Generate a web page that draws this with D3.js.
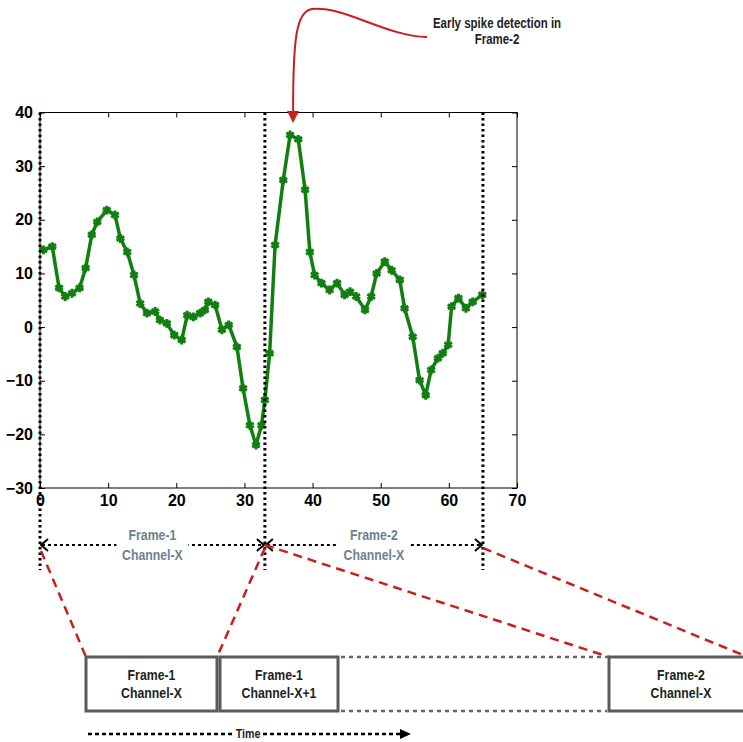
<!DOCTYPE html>
<html>
<head>
<meta charset="utf-8">
<script src="https://cdn.jsdelivr.net/npm/d3@7"></script>
<style>
  body { margin: 0; background: #fff; }
  svg { display: block; }
  .narrow { font-family: "Liberation Sans", Arial, sans-serif; font-weight: bold; }
</style>
</head>
<body>
<div id="chart"></div>
<script>
// サンプル番号（横軸）
const sampleX = [0.5, 1.8, 2.8, 3.7, 4.7, 5.8, 6.7, 7.6, 8.4, 9.8, 11, 11.8, 12.8, 13.8, 14.7, 15.7, 16.9, 17.6,
  18.6, 19.7, 20.8, 21.6, 22.5, 23.5, 24.2, 24.7, 25.7, 26.7, 27.7, 28.9, 29.8, 30.8, 31.7, 32.5, 33, 33.7,
  34.5, 35.7, 36.7, 37.9, 38.9, 39.6, 40.3, 41.3, 42.5, 43.6, 44.7, 45.5, 46.4, 47.7, 48.6, 49.4, 50.6, 51.6,
  52.8, 53.5, 54.7, 55.7, 56.6, 57.4, 58.4, 59.1, 59.9, 60.4, 61.4, 62.5, 63.5, 64.9]
// 振幅（縦軸）
const sampleY = [14.4, 15, 7.3, 5.7, 6.3, 7.3, 11, 17.2, 19.6, 21.8, 20.9, 16.5, 14, 9.7, 4.4, 2.6, 2.9, 1.3,
  0.7, -1.5, -2.4, 2.2, 1.9, 2.6, 3.2, 4.7, 4.1, -0.5, 0.4, -3.7, -11.4, -18.3, -22, -18.3, -13.6, -4.9,
  15.3, 27.4, 35.8, 35, 25.6, 14, 9.7, 8.2, 6.9, 8.2, 6, 6.6, 5.7, 3.2, 5.7, 10, 12.2, 10.6,
  8.8, 3.5, -1.8, -9.9, -12.7, -8, -5.8, -4.9, -3.3, 3.8, 5.4, 3.5, 4.7, 6]

const xTicks = [0, 10, 20, 30, 40, 50, 60, 70]
const yTicks = [-30, -20, -10, 0, 10, 20, 30, 40]

// フレームの境界（サンプル番号）
const frameEdges = [0, 33, 65]
const spanLabels = [['Frame-1', 'Channel-X'], ['Frame-2', 'Channel-X']]
const slotLabels = [['Frame-1', 'Channel-X'], ['Frame-1', 'Channel-X+1'], ['Frame-2', 'Channel-X']]
const noteLines = ['Early spike detection in', 'Frame-2']
const timeLabel = 'Time'

const width = 743
const height = 742

const svg = d3.select('#chart').append('svg')
  .attr('width', width)
  .attr('height', height)

const xScale = d3.scaleLinear().domain([0, 70]).range([40, 517])
const yScale = d3.scaleLinear().domain([-30, 40]).range([488, 112.5])

const green = '#107f10'
const red = '#c81e1e'

// 細めの文字（Arial Narrow 風に横を縮める）
const narrowText = (parent, lines, cx, y0, dy, size, color) => {
  parent.append('text')
    .attr('class', 'narrow')
    .attr('transform', `translate(${cx}, 0) scale(0.82, 1)`)
    .attr('text-anchor', 'middle')
    .attr('font-size', size)
    .attr('fill', color)
    .selectAll('tspan')
    .data(lines)
    .enter()
    .append('tspan')
    .attr('x', 0)
    .attr('y', (d, i) => y0 + i * dy)
    .text((d) => d)
}

// 外枠
svg.append('rect')
  .attr('x', xScale(0))
  .attr('y', yScale(40))
  .attr('width', xScale(70) - xScale(0))
  .attr('height', yScale(-30) - yScale(40))
  .attr('fill', 'none')
  .attr('stroke', '#000')
  .attr('stroke-width', 1)

// 軸（MATLAB風に目盛りは内向き）
const axisFont = (g) => {
  g.select('.domain').remove()
  g.selectAll('text')
    .attr('font-family', '"Liberation Sans", Arial, sans-serif')
    .attr('font-size', 16)
    .attr('font-weight', 'bold')
    .attr('fill', '#000')
}

svg.append('g')
  .attr('transform', `translate(0, ${yScale(-30)})`)
  .call(d3.axisBottom(xScale).tickValues(xTicks).tickSizeInner(-5).tickSizeOuter(0).tickPadding(7))
  .call(axisFont)

svg.append('g')
  .attr('transform', `translate(${xScale(0)}, 0)`)
  .call(d3.axisLeft(yScale).tickValues(yTicks).tickSizeInner(-5).tickSizeOuter(0).tickPadding(7))
  .call(axisFont)

svg.append('g')
  .attr('transform', `translate(0, ${yScale(40)})`)
  .call(d3.axisTop(xScale).tickValues(xTicks).tickSizeInner(-5).tickSizeOuter(0).tickFormat(''))
  .call(axisFont)

svg.append('g')
  .attr('transform', `translate(${xScale(70)}, 0)`)
  .call(d3.axisRight(yScale).tickValues(yTicks).tickSizeInner(-5).tickSizeOuter(0).tickFormat(''))
  .call(axisFont)

// 波形
const points = sampleX.map((d, i) => [d, sampleY[i]])

svg.append('path')
  .datum(points)
  .attr('fill', 'none')
  .attr('stroke', green)
  .attr('stroke-width', 3.5)
  .attr('stroke-linejoin', 'round')
  .attr('d', d3.line().x((d) => xScale(d[0])).y((d) => yScale(d[1])))

svg.append('g')
  .selectAll('path')
  .data(points)
  .enter()
  .append('path')
  .attr('transform', (d) => `translate(${xScale(d[0])}, ${yScale(d[1])})`)
  .attr('d', d3.symbol().type(d3.symbolAsterisk).size(55))
  .attr('fill', 'none')
  .attr('stroke', green)
  .attr('stroke-width', 3)

// フレーム境界の縦点線
const spanY = 545
svg.append('g')
  .selectAll('line')
  .data(frameEdges)
  .enter()
  .append('line')
  .attr('x1', (d) => xScale(d))
  .attr('x2', (d) => xScale(d))
  .attr('y1', yScale(40))
  .attr('y2', 570)
  .attr('stroke', '#000')
  .attr('stroke-width', 3)
  .attr('stroke-dasharray', '2.5,3')

// フレーム幅の両矢印
const spans = d3.pairs(frameEdges)
const spanG = svg.append('g')
spans.forEach((s, i) => {
  const x0 = xScale(s[0])
  const x1 = xScale(s[1])
  spanG.append('line')
    .attr('x1', x0 + 2).attr('x2', x1 - 2)
    .attr('y1', spanY).attr('y2', spanY)
    .attr('stroke', '#000')
    .attr('stroke-width', 2)
    .attr('stroke-dasharray', '3,3')
  spanG.append('path')
    .attr('d', `M${x0 + 8},${spanY - 6}L${x0 + 1},${spanY}L${x0 + 8},${spanY + 6}`)
    .attr('fill', 'none').attr('stroke', '#000').attr('stroke-width', 2)
  spanG.append('path')
    .attr('d', `M${x1 - 8},${spanY - 6}L${x1 - 1},${spanY}L${x1 - 8},${spanY + 6}`)
    .attr('fill', 'none').attr('stroke', '#000').attr('stroke-width', 2)
  const cx = (x0 + x1) / 2
  spanG.append('rect')
    .attr('x', cx - 36).attr('y', spanY - 5)
    .attr('width', 72).attr('height', 10)
    .attr('fill', '#fff')
  narrowText(spanG, spanLabels[i], cx, 540, 20, 15, '#6f7f91')
})

// 下段のタイムスロット
const slots = [
  { x: 86, w: 131 },
  { x: 220, w: 118 },
  { x: 609, w: 150 }
]
const slotTop = 657
const slotH = 54

// スロット間の点線
svg.append('g')
  .selectAll('line')
  .data([slotTop, slotTop + slotH])
  .enter()
  .append('line')
  .attr('x1', slots[1].x + slots[1].w + 3)
  .attr('x2', slots[2].x - 2)
  .attr('y1', (d) => d)
  .attr('y2', (d) => d)
  .attr('stroke', '#666')
  .attr('stroke-width', 2.5)
  .attr('stroke-dasharray', '4,4')

// 赤い破線（フレーム -> スロット）
const links = [
  [xScale(0) + 1, spanY + 6, slots[0].x, slotTop],
  [xScale(33), spanY + 3, slots[1].x - 3, slotTop],
  [xScale(33), spanY, slots[2].x, slotTop],
  [xScale(65), spanY + 3, width, slotTop - 2]
]
svg.append('g')
  .selectAll('line')
  .data(links)
  .enter()
  .append('line')
  .attr('x1', (d) => d[0]).attr('y1', (d) => d[1])
  .attr('x2', (d) => d[2]).attr('y2', (d) => d[3])
  .attr('stroke', red)
  .attr('stroke-width', 2.5)
  .attr('stroke-dasharray', '9,6')

const slotG = svg.append('g')
slots.forEach((s, i) => {
  slotG.append('rect')
    .attr('x', s.x).attr('y', slotTop)
    .attr('width', s.w).attr('height', slotH)
    .attr('fill', '#fff')
    .attr('stroke', '#5a5a5a')
    .attr('stroke-width', 3)
  const cx = i === 2 ? 681 : s.x + s.w / 2
  narrowText(slotG, slotLabels[i], cx, 680, 18, 15, '#1e1e1e')
})

// 時間軸の矢印
const timeY = 734
svg.append('line')
  .attr('x1', 88).attr('x2', 402)
  .attr('y1', timeY).attr('y2', timeY)
  .attr('stroke', '#000')
  .attr('stroke-width', 2.5)
  .attr('stroke-dasharray', '4,3')
svg.append('path')
  .attr('d', `M400,${timeY - 5}L411,${timeY}L400,${timeY + 5}Z`)
  .attr('fill', '#000')
svg.append('rect')
  .attr('x', 234).attr('y', timeY - 6).attr('width', 28).attr('height', 12)
  .attr('fill', '#fff')
narrowText(svg, [timeLabel], 248, timeY + 4.5, 0, 13, '#1e1e1e')

// 注釈（スパイクの早期検出）
const peakIndex = d3.maxIndex(sampleY)
const tipX = xScale(sampleX[peakIndex]) + 3
const tipY = yScale(sampleY[peakIndex]) - 12
svg.append('path')
  .attr('d', `M427,37C385,36 345,6 312,9C296,11 293,40 ${tipX},${tipY - 10}`)
  .attr('fill', 'none')
  .attr('stroke', red)
  .attr('stroke-width', 2)
svg.append('path')
  .attr('d', `M${tipX - 6},${tipY - 12}L${tipX},${tipY}L${tipX + 6},${tipY - 12}Z`)
  .attr('fill', red)

narrowText(svg, noteLines, 497, 28, 16, 14, '#222')
</script>
</body>
</html>
